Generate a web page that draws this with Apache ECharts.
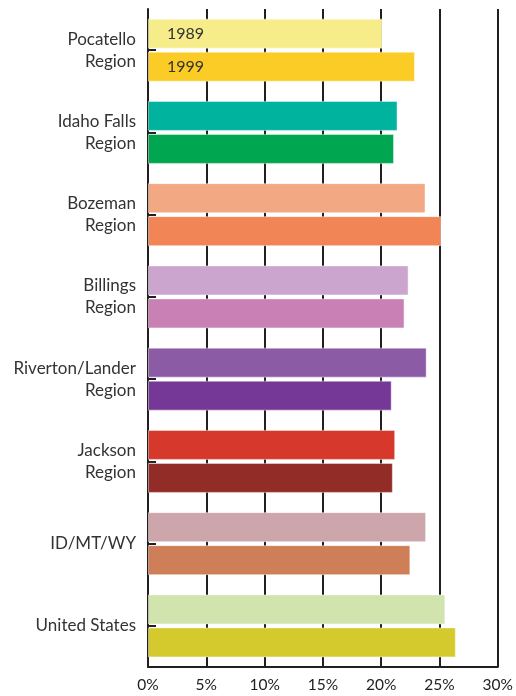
<!DOCTYPE html>
<html><head><meta charset="utf-8">
<script src="https://cdn.jsdelivr.net/npm/echarts@6/dist/echarts.min.js"></script>
<style>html,body{margin:0;padding:0;background:#fff}#c{width:516px;height:696px}</style>
</head><body><div id="c"></div>
<script>
const categories = ["Pocatello\nRegion","Idaho Falls\nRegion","Bozeman\nRegion","Billings\nRegion","Riverton/Lander\nRegion","Jackson\nRegion","ID/MT/WY","United States"];
const values1989 = [20.1, 21.4, 23.8, 22.35, 23.9, 21.2, 23.85, 25.5];
const values1999 = [22.9, 21.1, 25.15, 22.0, 20.9, 21.0, 22.5, 26.4];
const colors1989 = ["#F7EC8A","#00B39F","#F2A882","#CBA5CD","#8B5BA5","#D6382C","#CCA6AA","#D1E4AD"];
const colors1999 = ["#FBCB26","#00A650","#F18556","#C980B4","#763896","#922C27","#CE7F57","#D4CA2D"];
const xTicks = [0,5,10,15,20,25,30];
const FONT = "Lato";

function build(vals, cols, name){
  return vals.map((v,i)=>({
    value: v,
    itemStyle: {color: cols[i]},
    label: i===0 ? {show:true, position:'insideLeft', offset:[14,0], formatter:name, color:'#333', fontSize:16, fontFamily:FONT} : {show:false}
  }));
}

const chart = echarts.init(document.getElementById('c'));
chart.setOption({
  animation:false,
  grid:{left:148, right:18, top:9, bottom:29, containLabel:false},
  xAxis:{type:'value', min:xTicks[0], max:xTicks[xTicks.length-1], interval:5,
    axisLine:{show:true, lineStyle:{color:'#231f20', width:2}},
    axisTick:{show:false},
    axisLabel:{formatter:'{value}%', color:'#222', fontSize:15.5, fontFamily:FONT, margin:10},
    splitLine:{show:true, lineStyle:{color:'#231f20', width:2}}
  },
  yAxis:{type:'category', data:categories, inverse:true,
    axisLine:{show:true, lineStyle:{color:'#231f20', width:2}},
    axisTick:{show:true, inside:true, length:8, alignWithLabel:true, lineStyle:{color:'#231f20', width:2}},
    axisLabel:{color:'#333', fontSize:17, fontFamily:FONT, lineHeight:22, margin:12, align:'right'}
  },
  series:[
    {name:'1989', type:'bar', barWidth:30, barGap:'10%', data:build(values1989, colors1989, '1989'),
     itemStyle:{borderColor:'rgba(255,255,255,0.45)', borderWidth:1}},
    {name:'1999', type:'bar', barWidth:30, barGap:'10%', data:build(values1999, colors1999, '1999'),
     itemStyle:{borderColor:'rgba(255,255,255,0.45)', borderWidth:1}}
  ]
});
</script></body></html>
